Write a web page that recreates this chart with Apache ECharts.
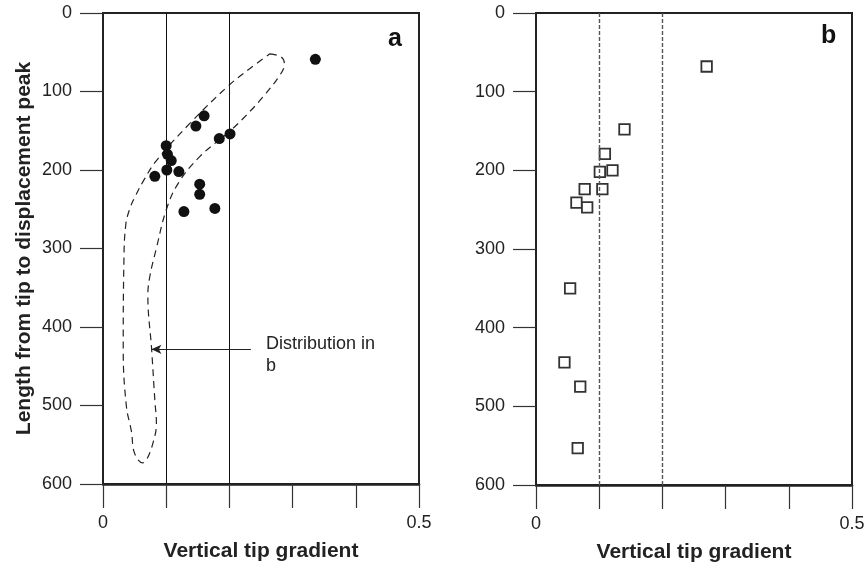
<!DOCTYPE html>
<html>
<head>
<meta charset="utf-8">
<script src="https://cdn.jsdelivr.net/npm/echarts@6/dist/echarts.min.js"></script>
<style>
  html, body { margin: 0; padding: 0; background: #fff; }
  #chart { width: 867px; height: 568px; }
</style>
</head>
<body>
<div id="chart"></div>
<script>
// Panel a: vertical tip gradient vs. length from tip to displacement peak (filled circles)
const gradientA = [0.336, 0.160, 0.147, 0.201, 0.184, 0.100, 0.102, 0.108, 0.082, 0.101, 0.120, 0.153, 0.153, 0.128, 0.177];
const lengthA   = [59, 131, 144, 154, 160, 169, 180, 188, 208, 200, 202, 218, 231, 253, 249];

// Panel b: open squares
const gradientB = [0.270, 0.140, 0.109, 0.121, 0.101, 0.105, 0.077, 0.064, 0.081, 0.054, 0.045, 0.070, 0.066];
const lengthB   = [68, 148, 179, 200, 202, 224, 224, 241, 247, 350, 444, 475, 553];

// Dashed envelope in panel a (outline of the distribution shown in b)
const envelopeX = [0.264, 0.282, 0.287, 0.280, 0.253, 0.227, 0.200, 0.153, 0.119, 0.100, 0.085, 0.074, 0.071, 0.077, 0.082, 0.0845, 0.079, 0.069, 0.063, 0.050, 0.045, 0.037, 0.032, 0.033, 0.036, 0.043, 0.052, 0.066, 0.0845, 0.137, 0.198, 0.232, 0.264];
const envelopeY = [52, 56, 65, 79, 107, 130, 151, 183, 217, 251, 298, 336, 360, 429, 493, 523, 548, 569, 573, 561, 533, 501, 429, 320, 270, 248, 232, 211, 188, 141, 93, 71, 52];

// Reference gradients drawn as vertical lines
const referenceGradients = [0.1, 0.2];

// Arrow from the annotation to the envelope
const arrowFrom = [0.234, 428.5];
const arrowTo   = [0.0766, 428.5];

// Axis settings
const xMin = 0, xMax = 0.5, xStep = 0.1;
const yMin = 0, yMax = 600, yStep = 100;
const xShownLabels = [0, 0.5];

const FONT = '"Liberation Sans", Arial, Helvetica, sans-serif';
const INK = '#222';

const zip = (xs, ys) => xs.map((x, i) => [x, ys[i]]);

function xAxisCfg(gridIndex) {
  return {
    gridIndex,
    type: 'value',
    position: 'bottom',
    min: xMin, max: xMax, interval: xStep,
    name: 'Vertical tip gradient',
    nameLocation: 'middle',
    nameGap: 57,
    nameTextStyle: { fontFamily: FONT, fontSize: 21, fontWeight: 'bold', color: INK },
    axisLine: { show: true, onZero: false, lineStyle: { color: INK, width: 2.5 } },
    axisTick: { show: true, inside: false, length: 24, lineStyle: { color: '#333', width: 1.2 } },
    axisLabel: {
      margin: 30,
      fontFamily: FONT, fontSize: 18, color: INK,
      formatter: v => xShownLabels.some(s => Math.abs(s - v) < 1e-9) ? String(+v.toFixed(1)) : ''
    },
    splitLine: { show: false }
  };
}

function yAxisCfg(gridIndex, withName) {
  return {
    gridIndex,
    type: 'value',
    position: 'left',
    inverse: true,
    min: yMin, max: yMax, interval: yStep,
    name: withName ? 'Length from tip to displacement peak' : '',
    nameLocation: 'middle',
    nameGap: 68,
    nameTextStyle: { fontFamily: FONT, fontSize: 21, fontWeight: 'bold', color: INK },
    axisLine: { show: true, onZero: false, lineStyle: { color: INK, width: 2 } },
    axisTick: { show: true, inside: false, length: 23, lineStyle: { color: '#333', width: 1.2 } },
    axisLabel: { margin: 31, fontFamily: FONT, fontSize: 18, color: INK },
    splitLine: { show: false }
  };
}

function refLines(style) {
  return {
    silent: true,
    symbol: ['none', 'none'],
    label: { show: false },
    animation: false,
    lineStyle: style,
    data: referenceGradients.map(g => ({ xAxis: g }))
  };
}

const chart = echarts.init(document.getElementById('chart'), null, { renderer: 'canvas' });

chart.setOption({
  animation: false,
  backgroundColor: '#fff',
  grid: [
    { left: 103, top: 13, width: 316, height: 471, show: true, borderColor: INK, borderWidth: 2, backgroundColor: 'transparent', outerBoundsMode: 'none' },
    { left: 536, top: 13, width: 316, height: 472, show: true, borderColor: INK, borderWidth: 2, backgroundColor: 'transparent', outerBoundsMode: 'none' }
  ],
  xAxis: [xAxisCfg(0), xAxisCfg(1)],
  yAxis: [yAxisCfg(0, true), yAxisCfg(1, false)],
  series: [
    {
      name: 'envelope',
      type: 'line',
      xAxisIndex: 0, yAxisIndex: 0,
      data: zip(envelopeX, envelopeY),
      smooth: 0.4,
      showSymbol: false,
      symbol: 'none',
      silent: true,
      lineStyle: { color: '#222', width: 1.2, type: [7, 5] },
      z: 2
    },
    {
      name: 'a',
      type: 'scatter',
      xAxisIndex: 0, yAxisIndex: 0,
      data: zip(gradientA, lengthA),
      symbol: 'circle',
      symbolSize: 11,
      itemStyle: { color: '#111', opacity: 1 },
      markLine: refLines({ color: '#111', width: 1, type: 'solid' }),
      z: 3
    },
    {
      name: 'arrow',
      type: 'scatter',
      xAxisIndex: 0, yAxisIndex: 0,
      data: [],
      markLine: {
        silent: true,
        animation: false,
        symbol: ['none', 'arrow'],
        symbolSize: [7, 10],
        label: { show: false },
        lineStyle: { color: '#222', width: 1.2, type: 'solid' },
        data: [[{ coord: arrowFrom }, { coord: arrowTo }]]
      }
    },
    {
      name: 'b',
      type: 'scatter',
      xAxisIndex: 1, yAxisIndex: 1,
      data: zip(gradientB, lengthB),
      symbol: 'rect',
      symbolSize: 10.5,
      itemStyle: { color: '#fff', borderColor: '#333', borderWidth: 1.8, opacity: 1 },
      markLine: refLines({ color: '#555', width: 1.4, type: [4, 2] }),
      z: 3
    }
  ],
  graphic: [
    { type: 'text', left: 388, top: 27, style: { text: 'a', fontFamily: FONT, fontSize: 25, fontWeight: 'bold', fill: '#111' } },
    { type: 'text', left: 821, top: 24, style: { text: 'b', fontFamily: FONT, fontSize: 25, fontWeight: 'bold', fill: '#111' } },
    { type: 'text', left: 266, top: 333, style: { text: 'Distribution in\nb', fontFamily: FONT, fontSize: 18, lineHeight: 22, fill: '#222' } }
  ]
});
</script>
</body>
</html>
